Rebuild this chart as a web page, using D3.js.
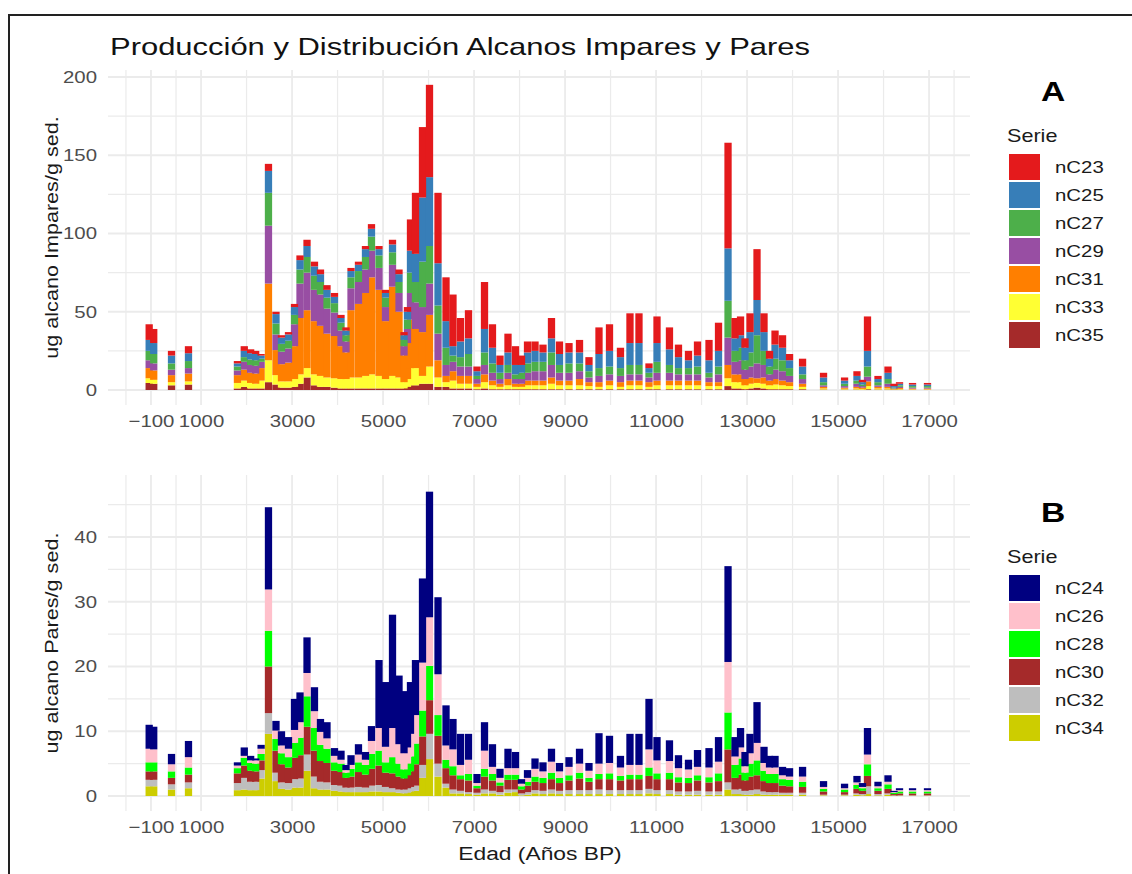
<!DOCTYPE html>
<html lang="es">
<head>
<meta charset="utf-8">
<title>Alcanos Impares y Pares</title>
<style>
body { margin: 0; background: #fff; }
svg text { font-family: "Liberation Sans", Arial, sans-serif; }
</style>
</head>
<body>
<div id="chart"></div>
<script src="https://d3js.org/d3.v7.min.js"></script>
<script>
// edades de las muestras (anos BP)
var ages = [-140,-40,351,724,1800,1950,2090,2200,2320,2482,
  2647,2768,2922,3054,3175,3329,3493,3625,3768,3933,
  4076,4186,4296,4460,4614,4746,4911,5054,5208,5351,
  5461,5537,5603,5713,5867,6021,6208,6384,6537,6702,
  6878,7065,7230,7405,7570,7746,7911,8043,8175,8340,
  8515,8702,8878,9087,9318,9526,9746,9977,10218,10427,
  10625,10845,11021,11295,11493,11713,11911,12164,12373,12582,
  12736,12857,12955,13065,13219,13373,13494,13615,13780,13934,
  14220,14681,15143,15416,15537,15647,15878,16098,16230,16351,
  16637,16966];

// alcanos impares (ug/g sed.)
var nC23 = [10,9,3,4.5,1.5,3,2.5,2,1,4.5, 1.5,1.5,1.5,2,3,4,3,3,3,2.5, 2,2,2,2,2,3,2,2,3,3,
  2,3,20,39,45,59,45,28,33,15, 18,3,30,15,6,12,12,6,7,6, 5,13,8,6,8,5,17,17,6,19,
  19,3,17,14,8,6,9,13,18,67.5, 13,12,6,12,32.5,12,5,9,8,4, 5,3,2,3,1.5,22,2,4,1.5,1, 1,1];
var nC25 = [7,7,5,5,2,4,4,4,2,14, 6,4,4,5,6,7,6,5,5,4, 3,3,4,4,5,5,4,3,5,5,
  3,5,14,18,41,44,27,17,6,10, 10,3,15,10,5,8,6,5,7,7, 6,9,7,7,7,4,9,10,7,14,
  14,3,12,10,7,5,7,8,10,33.5, 8,8,8,13,22.5,12,5,9,8,5, 5,3,2,3,1.5,10,2,4,1,1, 1,1];
var nC27 = [6,6,4,4.5,2.5,3,3.5,3.5,2,21, 7,5,5,6,9,10,9,8,7,6, 5,4,7,7,8,9,8,6,8,7,
  4,6,13,13,29,24,18,11,4,6, 8,2,8,6,4,5,3,4,6,6, 6,8,5,6,5,4,5,5,5,6,
  6,3,7,5,4,4,5,3,5,23.5, 7,8,6,9,18,9,5,7,7,5, 3,2,1.5,2,1,6.5,2,3,0.5,1, 1,1];
var nC29 = [5,4.5,3.5,3.5,3,5,5,5,4,37, 10,8,9,14,22,24,20,20,16,15, 10,7,14,14,15,17,14,9,14,12,
  6,9,17,17,16,20,17,7,6,6, 6,3,6,5,3,4,3,3,5,6, 6,8,5,5,5,3,4,4,4,4,
  4,3,5,5,4,4,4,3,5,17.5, 8,9,6,7,9.5,8,4,6,6,4, 3,1,1,2,1,3,1,2,0.3,0.7, 0.6,0.6];
var nC31 = [6.5,6,4.5,5,5,7,6.5,6.5,8,49, 16,11,12,21,36,37,34,32,28,27, 21,17,43,47,53,62,55,37,57,42,
  17,23,31,25,28,33,11,4,6,5, 5,2,5,3,2,4,2,2,3,3, 3,4,3,3,4,2.5,3,3,3,3,
  3,3,3,3,3,3,3,2.5,2.5,8.5, 5,5,4,4,3,4,3,3.5,3,2.5, 2,1,0.7,1,0.8,3,1,1,0.3,0.6, 0.5,0.5];
var nC33 = [3,2.5,2,2,3.5,4,3.5,3,5,14, 6,4,4,5,6,6,7,7,6,6, 6,6,7,7,8,9,8,6,8,7,
  4,5,11,11,5,11,6,3,5,3, 3,1.5,4,2.5,1.5,2.5,1.5,1.5,2.5,2.5, 2.5,3.5,2.5,2.5,2.5,2,1.5,2.5,1.5,2.5,
  2.5,1.5,2.5,2.5,2.5,2.5,2.5,2,2,5, 4,4,2.5,3,3,3,2.5,3,2.5,2, 1.5,0.7,0.5,0.7,0.5,2,0.7,0.7,0.2,0.4, 0.3,0.3];
var nC35 = [4.5,4,3,3.5,1,2,1,1,1,5, 3.5,1.5,1.5,2,4,8,3,2,2,1.5, 1,1,1,1,1,1,1,1,1,1,
  1,2,3,3,4,4,2,2,1,1, 1,0.5,1,0.5,0.5,0.5,0.5,0.5,0.5,0.5, 0.5,0.5,0.5,0.5,0.5,0.5,0.5,0.5,0.5,0.5,
  0.5,0.5,0.5,0.5,0.5,0.5,0.5,0.5,0.5,2.5, 1,1,0.5,1,1.5,1,0.5,0.5,0.5,0.5, 0.5,0.3,0.3,0.3,0.2,0.5,0.3,0.3,0.2,0.3, 0.1,0.1];

// alcanos pares (ug/g sed.)
var nC24 = [3.7,3.5,1.6,2.5,0.5,1.3,0.7,0.3,0.6,12.7, 1.5,2.2,1.8,4.8,4.6,5.5,3.7,2,2.5,1.2, 1.4,0.8,1.5,1.6,1.2,2.3,10.5,10,17.5,10.6,
  9.6,8.5,8,8.5,13,19.4,11.9,6.2,4.7,4.8, 4,1.4,4.4,3.5,1.4,3,2.5,0.7,1.2,1.6, 1.4,2,1.3,1.5,2.3,1.2,4.7,4.2,1.8,4.8,
  4.8,7.8,3.6,3.2,2,1.5,2.6,3,3.8,14.8, 3,3,2.2,3,6.3,2.5,1.8,1.8,1.3,1.3, 1.5,0.9,0.7,1,0.6,4.1,0.7,1,0.2,0.3, 0.3,0.3];
var nC26 = [2.1,2,1.1,1.6,0.4,0.3,0.4,0.5,0.8,6.4, 1.3,1.2,1.3,2,2.4,3.6,2.6,2,1.6,1, 0.6,0.4,0.6,1.2,0.8,2,3.5,2.4,4.5,3,
  2.5,2.5,3.5,4.4,7.4,7.5,6.3,2.2,2.6,1.6, 2.2,0.4,2.8,1.1,0.7,1,1,0.4,0.6,1.2, 1,1.7,1,1.3,1.4,1.1,1.6,1.6,1.3,1.5,
  1.5,2.8,2,1.8,1.4,1.3,1.3,1.5,1.8,7.8, 1.3,1.7,1,1.6,2.7,1.2,1,1,0.6,0.5, 0.8,0.3,0.2,0.4,0.2,1.5,0.3,0.4,0.1,0.2, 0.2,0.2];
var nC28 = [1.4,1.4,1,1.1,0.8,1.2,1.2,1.2,1,5.5, 1.8,1.7,1.6,2.3,2.7,4.7,3.5,2.5,2.2,1.3, 1.3,0.8,1.2,1.5,1.5,2.3,2.3,1.6,2.5,2,
  1.4,1.8,2.3,3.2,4,5.3,3.2,1.3,1.4,0.6, 1,0.4,1.2,1,0.5,0.8,0.8,0.5,0.6,0.8, 0.8,1,0.8,0.8,0.9,0.6,0.8,0.9,0.7,0.7,
  0.7,1.3,0.9,1,0.8,0.8,0.8,0.8,1.2,5.7, 2,2.5,1.2,2,2.3,1.6,1.4,1.4,1,1, 0.8,0.4,0.4,0.6,0.4,1.8,0.4,0.7,0.2,0.3, 0.3,0.3];
var nC30 = [1.3,1.3,1,1.2,1.5,1.9,1.7,1.6,1.5,7.2, 3.4,2.8,2.4,3.3,3.6,4.3,4,3.2,3,2.2, 2.1,1.5,1.7,2.3,2,2.6,3,2.2,2.3,2,
  1.7,2,2.4,3.3,4.4,5.2,4.3,2.4,2.2,1.8, 1.8,0.7,2,1.6,1,1.5,1.5,0.6,1,1.3, 1.2,1.6,1.2,1.5,1.8,1.3,1.6,1.7,1.5,1.7,
  1.7,2,1.7,1.7,1.4,1.3,1.6,1.4,1.6,5.1, 1.8,2.2,1.6,2.1,2.2,1.6,1.4,1.4,1.1,1, 0.9,0.5,0.4,0.7,0.5,1.6,0.5,0.7,0.2,0.3, 0.3,0.3];
var nC32 = [1,1,0.8,0.9,1.1,1.8,1.3,1.3,1.3,3.2, 1.3,1,1,1.3,1.4,2.5,1.8,1.2,1.1,0.9, 0.9,0.7,0.7,0.8,0.7,0.9,1,0.8,0.6,0.5,
  0.6,0.7,0.7,0.8,2,3.9,2,0.6,0.6,0.4, 0.3,0.3,0.6,0.4,0.4,0.5,0.4,0.3,0.4,0.5, 0.5,0.6,0.5,0.6,0.6,0.6,0.7,0.6,0.6,0.6,
  0.6,0.7,0.6,0.6,0.5,0.5,0.6,0.5,0.5,1.1, 0.7,0.8,0.6,0.7,0.7,0.5,0.4,0.4,0.3,0.3, 0.3,0.1,0.1,0.2,0.2,1.2,0.2,0.2,0.05,0.05, 0.05,0.05];
var nC34 = [1.5,1.5,1,1.2,0.9,1,0.9,0.9,2.7,9.6, 2.3,1.1,1,1.3,1.3,3.9,1.2,1,1,0.8, 0.7,0.6,0.6,0.6,0.6,0.7,0.7,0.6,0.6,0.5,
  0.4,0.5,0.7,0.8,2.8,5.7,3,1.3,0.4,0.4, 0.3,0.2,0.4,0.4,0.2,0.5,0.6,0.1,0.2,0.4, 0.3,0.4,0.3,0.3,0.3,0.3,0.3,0.3,0.3,0.3,
  0.3,0.4,0.3,0.3,0.2,0.2,0.2,0.2,0.2,1, 0.3,0.3,0.2,0.2,0.3,0.2,0.2,0.2,0.2,0.2, 0.2,0.1,0.1,0.2,0.1,0.3,0.1,0.2,0.05,0.05, 0.05,0.05];

var xTicks = [-100, 1000, 3000, 5000, 7000, 9000, 11000, 13000, 15000, 17000];
var xMinor = [-650, 450, 2000, 4000, 6000, 8000, 10000, 12000, 14000, 16000, 17550];
var yTicksA = [0, 50, 100, 150, 200];
var yMinorA = [25, 75, 125, 175];
var yTicksB = [0, 10, 20, 30, 40];
var yMinorB = [5, 15, 25, 35, 45];

var keysA = ['nC23', 'nC25', 'nC27', 'nC29', 'nC31', 'nC33', 'nC35'];
var colsA = ['#e41a1c', '#377eb8', '#4daf4a', '#984ea3', '#ff7f00', '#ffff33', '#a52a2a'];
var keysB = ['nC24', 'nC26', 'nC28', 'nC30', 'nC32', 'nC34'];
var colsB = ['#000080', '#ffc0cb', '#00ff00', '#a52a2a', '#bebebe', '#cdcd00'];

var seriesA = [nC23, nC25, nC27, nC29, nC31, nC33, nC35];
var seriesB = [nC24, nC26, nC28, nC30, nC32, nC34];

var SX = 1.2; // the picture is a bit stretched sideways
var barW = 160; // bar width in years

var svg = d3.select('#chart').append('svg')
  .attr('width', 1132).attr('height', 874);
svg.append('rect').attr('width', 1132).attr('height', 874).attr('fill', '#fff');
// outer frame of the figure
svg.append('rect').attr('x', 9).attr('y', 15).attr('width', 1140).attr('height', 900)
  .attr('fill', 'none').attr('stroke', '#222').attr('stroke-width', 2);

var x = d3.scaleLinear().domain([-1045, 17900]).range([108, 970]);

function label(parent, px, py, str, size, opts) {
  opts = opts || {};
  var g = parent.append('g').attr('transform', 'translate(' + px + ',' + py + ')' + (opts.rot ? ' rotate(' + opts.rot + ')' : ''));
  return g.append('text')
    .attr('transform', 'scale(' + (opts.sx || SX) + ',1)')
    .attr('text-anchor', opts.anchor || 'start')
    .attr('font-size', size)
    .attr('font-weight', opts.bold ? 'bold' : 'normal')
    .attr('fill', opts.fill || '#1a1a1a')
    .attr('dy', opts.dy || 0)
    .text(str);
}

function panel(keys, cols, series, yDom, yRange, yTicks, yMinor, top, bottom, yTitle, tag, legTop) {
  var y = d3.scaleLinear().domain(yDom).range(yRange);
  var g = svg.append('g');

  // grid
  g.selectAll('.vmin').data(xMinor).enter().append('line')
    .attr('x1', x).attr('x2', x).attr('y1', top).attr('y2', bottom)
    .attr('stroke', '#ebebeb').attr('stroke-width', 1.2);
  g.selectAll('.hmin').data(yMinor).enter().append('line')
    .attr('x1', 108).attr('x2', 970).attr('y1', y).attr('y2', y)
    .attr('stroke', '#ebebeb').attr('stroke-width', 1.2);
  g.selectAll('.vmaj').data(xTicks).enter().append('line')
    .attr('x1', x).attr('x2', x).attr('y1', top).attr('y2', bottom)
    .attr('stroke', '#ebebeb').attr('stroke-width', 1.8);
  g.selectAll('.hmaj').data(yTicks).enter().append('line')
    .attr('x1', 108).attr('x2', 970).attr('y1', y).attr('y2', y)
    .attr('stroke', '#ebebeb').attr('stroke-width', 1.8);

  // stacked bars, first key on top
  var rows = ages.map(function(a, i) {
    var r = { age: a };
    keys.forEach(function(k, j) { r[k] = series[j][i]; });
    return r;
  });
  var stackKeys = keys.slice().reverse();
  var stacked = d3.stack().keys(stackKeys)(rows);
  var color = d3.scaleOrdinal().domain(keys).range(cols);
  g.selectAll('.layer').data(stacked).enter().append('g')
    .attr('fill', function(d) { return color(d.key); })
    .selectAll('rect').data(function(d) { return d; }).enter().append('rect')
    .attr('x', function(d) { return x(d.data.age - barW / 2); })
    .attr('width', x(barW) - x(0))
    .attr('y', function(d) { return y(d[1]); })
    .attr('height', function(d) { return Math.max(0, y(d[0]) - y(d[1])); });

  // axes
  var ax = g.append('g').attr('transform', 'translate(0,' + bottom + ')')
    .call(d3.axisBottom(x).tickValues(xTicks).tickSize(0).tickPadding(10).tickFormat(d3.format('d')));
  ax.select('.domain').remove();
  ax.selectAll('text').attr('font-size', 17).attr('fill', '#4d4d4d')
    .attr('font-family', '"Liberation Sans", Arial, sans-serif')
    .attr('transform', 'scale(' + SX + ',1)');

  var ay = g.append('g').attr('transform', 'translate(108,0)')
    .call(d3.axisLeft(y).tickValues(yTicks).tickSize(0).tickPadding(11 / SX));
  ay.select('.domain').remove();
  ay.selectAll('text').attr('font-size', 17).attr('fill', '#4d4d4d')
    .attr('font-family', '"Liberation Sans", Arial, sans-serif')
    .attr('transform', 'scale(' + SX + ',1)');

  label(svg, 52, (top + bottom) / 2, yTitle, 18, { rot: -90, anchor: 'middle', dy: '0.35em' });

  // legend
  label(svg, 1053, legTop, tag, 28, { anchor: 'middle', bold: true, fill: '#000' });
  label(svg, 1007, legTop + 41, 'Serie', 18);
  keys.forEach(function(k, i) {
    var ky = legTop + 53 + i * 28;
    svg.append('rect').attr('x', 1009).attr('y', ky).attr('width', 31).attr('height', 26)
      .attr('fill', color(k));
    label(svg, 1055, ky + 13, k, 17, { dy: '0.35em' });
  });
}

label(svg, 110, 55, 'Producción y Distribución Alcanos Impares y Pares', 24, { fill: '#111', sx: 1.29 });

panel(keysA, colsA, seriesA, [0, 200], [390, 77], yTicksA, yMinorA, 70, 405,
  'ug alcano Impares/g sed.', 'A', 101);
panel(keysB, colsB, seriesB, [0, 40], [796, 537], yTicksB, yMinorB, 475, 811,
  'ug alcano Pares/g sed.', 'B', 522);

label(svg, 540, 860, 'Edad (Años BP)', 19, { anchor: 'middle' });
</script>
</body>
</html>
